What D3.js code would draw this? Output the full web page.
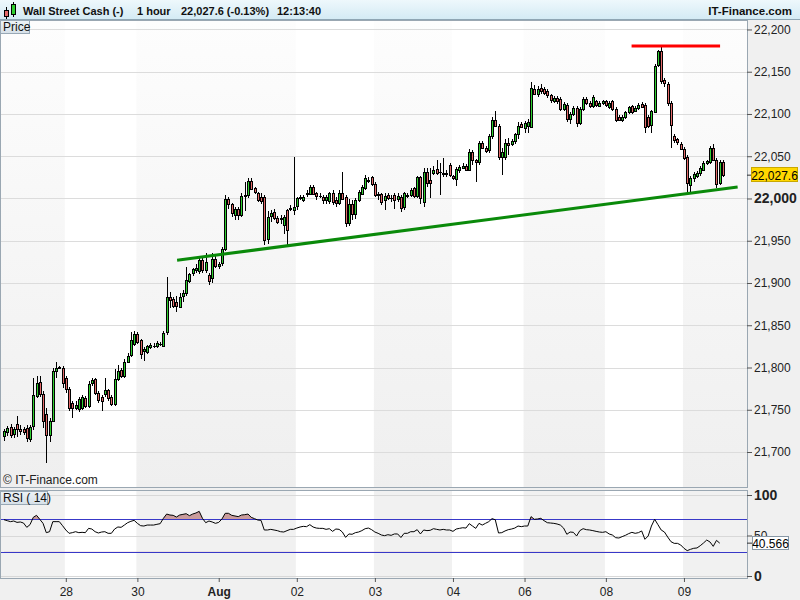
<!DOCTYPE html>
<html><head><meta charset="utf-8">
<script src="https://cdn.jsdelivr.net/npm/d3@7"></script>
<style>
body{margin:0;background:#f0f0f0;}
svg{display:block;font-family:"Liberation Sans",Arial,sans-serif;}
</style></head>
<body><svg id="c" width="800" height="600"></svg>
<script>
// ---------- DATA (hourly candles, Wall Street Cash) ----------
const openP = [21719,21724,21730,21721,21733,21727,21727,21728,21716,21730,
21767,21783,21769,21745,21720,21737,21796,21800,21799,21788,
21775,21758,21753,21751,21752,21764,21755,21781,21786,21770,
21765,21768,21773,21765,21757,21786,21797,21790,21807,21814,
21828,21840,21832,21820,21818,21825,21826,21825,21828,21826,
21841,21883,21881,21877,21872,21884,21888,21903,21911,21916,
21914,21927,21915,21910,21905,21928,21921,21923,21940,21999,
21993,21980,21987,21980,22003,22004,22021,22012,22007,22002,
22002,21952,21980,21984,21977,21976,21968,21986,21988,21986,
21990,22001,21998,22005,22006,22014,22006,22003,22002,21998,
21997,22006,21998,21995,22007,22002,21972,21994,21982,21998,
22006,22012,22022,22025,22017,22004,22005,21998,22004,22001,
22004,21999,22002,21989,22003,22004,22012,22002,22025,21996,
22031,22022,22030,22035,22031,22030,22029,22040,22027,22023,
22033,22037,22039,22034,22055,22045,22043,22066,22060,22057,
22074,22093,22086,22049,22050,22066,22065,22068,22076,22088,
22083,22085,22085,22130,22124,22131,22130,22127,22122,22116,
22119,22118,22106,22111,22094,22100,22107,22089,22106,22118,
22113,22109,22115,22110,22113,22115,22108,22115,22106,22097,
22093,22096,22102,22109,22104,22107,22112,22111,22097,22086,
22103,22157,22174,22140,22136,22113,22074,22070,22065,22059,
22049,22016,22024,22027,22030,22034,22042,22043,22060,22046,
22018,22043];
const highP = [21727,21731,21733,21730,21743,21732,21730,21732,21732,21788,
21790,21790,21772,21752,21740,21800,21806,21802,21802,21790,
21777,21760,21760,21765,21768,21766,21784,21788,21788,21772,
21767,21788,21775,21767,21798,21803,21799,21810,21817,21842,
21843,21842,21834,21824,21827,21829,21829,21831,21830,21843,
21907,21889,21883,21885,21888,21892,21919,21912,21918,21922,
21930,21930,21936,21912,21935,21932,21925,21942,22004,22002,
21995,21990,21990,22006,22020,22024,22024,22014,22008,22006,
22004,21985,21986,21987,21979,21980,21980,21988,21992,22049,
22002,22004,22004,22010,22016,22016,22008,22006,22004,22004,
22008,22010,22002,22010,22031,22004,21999,21998,22000,22010,
22016,22028,22025,22027,22019,22008,22006,22006,22006,22004,
22006,22006,22004,22008,22006,22012,22014,22027,22027,22036,
22036,22036,22038,22046,22042,22048,22034,22042,22028,22037,
22040,22042,22041,22058,22057,22047,22068,22068,22062,22076,
22096,22104,22088,22060,22070,22072,22070,22078,22090,22090,
22092,22094,22138,22134,22133,22135,22132,22129,22124,22121,
22121,22120,22114,22113,22102,22109,22109,22108,22120,22120,
22115,22122,22117,22115,22117,22117,22115,22117,22108,22099,
22099,22104,22110,22111,22109,22113,22114,22113,22099,22105,
22159,22176,22180,22142,22138,22115,22076,22072,22067,22061,
22051,22027,22031,22033,22038,22044,22046,22062,22064,22048,
22045,22046];
const lowP = [21713,21719,21716,21717,21718,21720,21720,21712,21712,21726,
21764,21765,21728,21687,21712,21735,21788,21798,21776,21770,
21748,21740,21750,21747,21750,21752,21752,21778,21768,21758,
21749,21765,21760,21755,21755,21784,21788,21788,21805,21812,
21826,21828,21810,21808,21816,21822,21823,21823,21826,21824,
21839,21870,21870,21866,21870,21878,21885,21900,21908,21912,
21911,21912,21912,21898,21900,21918,21917,21920,21938,21988,
21978,21975,21975,21978,21985,22000,22010,22005,21996,21994,
21945,21946,21972,21975,21970,21970,21958,21942,21985,21980,
21986,21998,21996,22002,22004,22004,21998,22000,21994,21994,
21994,21992,21990,21992,21998,21966,21968,21975,21976,21996,
22004,22010,22018,22015,22002,21998,21992,21986,21998,21996,
21988,21996,21984,21986,22000,22002,22000,22000,21994,21990,
22014,22000,22028,22028,22004,22025,22026,22026,22022,22015,
22030,22035,22032,22032,22040,22020,22040,22058,22054,22054,
22070,22084,22045,22028,22045,22052,22062,22064,22070,22083,
22078,22078,22083,22122,22120,22124,22122,22119,22113,22113,
22112,22104,22104,22090,22088,22098,22084,22087,22104,22111,
22107,22107,22108,22108,22111,22108,22106,22104,22091,22092,
22090,22094,22100,22100,22102,22105,22107,22078,22083,22078,
22101,22155,22136,22132,22110,22060,22066,22063,22057,22046,
22004,22005,22020,22024,22027,22032,22040,22041,22044,22012,
22016,22026];
const closeP = [21725,21729,21721,21727,21727,21725,21723,21716,21730,21767,
21782,21769,21737,21720,21737,21796,21799,21801,21781,21775,
21752,21752,21756,21763,21765,21755,21781,21785,21770,21762,
21760,21773,21763,21757,21786,21796,21790,21807,21814,21832,
21840,21830,21816,21822,21825,21827,21826,21829,21828,21841,
21883,21879,21873,21872,21884,21888,21903,21911,21916,21918,
21927,21915,21925,21903,21928,21920,21923,21940,21999,21993,
21982,21987,21980,22003,22004,22021,22012,22007,21999,21997,
21951,21978,21983,21977,21972,21977,21978,21962,21989,21990,
22000,22002,22002,22006,22014,22006,22002,22003,21998,22002,
22006,21995,21994,22007,22000,21971,21994,21982,21998,22008,
22014,22024,22021,22017,22004,22005,21996,22003,22000,22001,
21998,22003,21989,22006,22004,22010,22002,22025,22000,22031,
22018,22018,22034,22030,22031,22029,22030,22028,22025,22035,
22037,22039,22034,22055,22045,22043,22066,22060,22057,22074,
22093,22086,22049,22055,22066,22064,22068,22076,22086,22085,
22089,22090,22131,22124,22130,22127,22125,22122,22116,22119,
22115,22106,22112,22094,22100,22107,22089,22106,22118,22113,
22109,22120,22110,22113,22115,22110,22113,22106,22093,22094,
22097,22102,22108,22102,22107,22111,22109,22085,22086,22103,
22157,22174,22139,22136,22113,22087,22069,22066,22059,22048,
22018,22024,22029,22030,22036,22042,22044,22060,22046,22018,
22043,22027.6];
const rsiVals = [69.5,68.3,67.1,67.9,66.2,66.7,65.4,60.1,63.4,72.4,
74.9,70.0,65.0,53.5,54.7,67.1,67.1,67.1,62.1,56.8,
52.7,53.5,54.7,53.5,53.9,53.5,58.8,58.0,54.7,53.1,
54.3,54.7,52.7,52.7,58.0,60.5,60.1,62.9,65.8,67.5,
68.7,65.0,62.1,61.7,62.9,62.9,62.9,63.8,64.6,71.2,
76.5,75.3,74.9,72.8,75.3,76.1,76.9,74.5,76.5,77.8,
79.8,71.2,65.8,67.9,66.7,65.0,66.2,70.4,77.4,77.4,
74.9,74.1,73.3,75.3,75.7,76.5,72.4,70.8,69.1,68.7,
56.8,56.8,57.6,56.8,56.0,54.7,54.3,56.0,57.6,57.6,
59.2,60.5,61.3,60.9,63.4,60.5,59.2,58.8,58.8,57.6,
58.4,55.1,58.0,57.6,54.3,47.7,51.9,51.5,53.5,54.3,
56.0,58.4,59.2,57.2,54.3,52.7,50.6,49.8,51.0,50.2,
51.9,51.9,47.5,52.7,52.7,54.7,54.7,57.2,51.9,56.8,
56.0,56.4,58.4,57.6,56.8,57.6,56.8,56.8,55.1,58.0,
58.8,59.6,59.2,64.6,61.7,58.8,65.0,62.9,65.0,67.1,
70.8,69.5,53.1,53.5,55.6,57.2,58.0,59.2,61.7,60.9,
61.7,61.7,73.3,70.0,70.4,71.2,68.3,65.8,65.4,65.0,
64.2,62.9,59.2,51.5,54.3,53.9,49.4,56.0,58.4,57.2,
56.8,56.0,55.1,54.3,53.9,54.7,51.9,50.6,47.3,46.9,
48.6,50.2,52.3,53.9,52.7,53.5,55.6,45.3,49.4,61.7,
70.0,63.4,56.8,54.3,48.1,42.4,40.3,40.3,38.3,34.2,
31.3,32.9,34.2,34.6,37.4,40.7,44.4,42.0,36.6,44.0,
40.566];
const dayIdx = [19,41,66,90,114,138,160,185,209];
const dayLabels = ["28","30","Aug","02","03","04","06","08","09"];
const shadedBands = [[-10,19],[41,90],[114,138],[160,185],[209,240]];
const priceTicks = [21700,21750,21800,21850,21900,21950,22000,22050,22100,22150,22200];
const rsiTicks = [0,50,100];
const rsiLevels = [70,30];
const trendIdx = [53.2,225.5], trendPrice = [21927,22013.6];
const resistIdx = [192.9,220.1], resistPrice = [22180.5,22180.5];
const lastPrice = 22027.6, lastRsi = 40.566;
const titleParts = [["Wall Street Cash (-)",23],["1 hour",137],["22,027.6 (-0.13%)",181],["12:13:40",277]];

// ---------- LAYOUT ----------
const svg = d3.select("#c");
const L = 0, R = 747, mainTop = 20, mainBot = 487, rsiTop = 490, rsiBot = 578;
const N = closeP.length;
const x = d3.scaleLinear().domain([0, N-1]).range([4, 723]);
const yP = d3.scaleLinear().domain([21658.6, 22211.2]).range([mainBot, mainTop]);
const yR = d3.scaleLinear().domain([0, 100]).range([576, 495]);
const ry = yR(lastRsi);

const defs = svg.append("defs");
const hg = defs.append("linearGradient").attr("id","hdr").attr("x1",0).attr("y1",0).attr("x2",0).attr("y2",1);
hg.append("stop").attr("offset","0%").attr("stop-color","#eef8fc");
hg.append("stop").attr("offset","100%").attr("stop-color","#d3eaf4");
const bg = defs.append("linearGradient").attr("id","band").attr("x1",0).attr("y1",0).attr("x2",0).attr("y2",1);
bg.append("stop").attr("offset","0%").attr("stop-color","#fdfdfd");
bg.append("stop").attr("offset","100%").attr("stop-color","#efefef");
const lg = defs.append("linearGradient").attr("id","lbl").attr("x1",0).attr("y1",0).attr("x2",0).attr("y2",1);
lg.append("stop").attr("offset","0%").attr("stop-color","#eef3f7");
lg.append("stop").attr("offset","100%").attr("stop-color","#d6e0e8");
defs.append("clipPath").attr("id","clipMain").append("rect").attr("x",L).attr("y",mainTop).attr("width",R-L).attr("height",mainBot-mainTop);
defs.append("clipPath").attr("id","clipRsi").append("rect").attr("x",L).attr("y",rsiTop).attr("width",R-L).attr("height",rsiBot-rsiTop);
defs.append("clipPath").attr("id","clipAbove").append("rect").attr("x",L).attr("y",rsiTop).attr("width",R-L).attr("height",yR(70)-rsiTop);
defs.append("clipPath").attr("id","clipBelow").append("rect").attr("x",L).attr("y",yR(30)).attr("width",R-L).attr("height",rsiBot-yR(30));
// clip in the local frame of the "50" tick (origin at the tick)
defs.append("clipPath").attr("id","clip50").append("rect").attr("x",0).attr("y",-20)
  .attr("width",53).attr("height",20 + (Math.round(ry)-6.5) - yR(50));

// background
svg.append("rect").attr("width",800).attr("height",600).attr("fill","#f0f0f0");

// ---------- MAIN PANEL ----------
const main = svg.append("g");
main.append("rect").attr("x",L).attr("y",mainTop).attr("width",R-L).attr("height",mainBot-mainTop).attr("fill","#ffffff");
main.append("g").attr("clip-path","url(#clipMain)").selectAll("rect").data(shadedBands).join("rect")
  .attr("x",d=>x(d[0])-1).attr("width",d=>x(d[1])-x(d[0]))
  .attr("y",mainTop).attr("height",mainBot-mainTop).attr("fill","url(#band)");
main.append("g").selectAll("line").data(priceTicks).join("line")
  .attr("x1",L).attr("x2",R).attr("y1",d=>Math.round(yP(d))+0.5).attr("y2",d=>Math.round(yP(d))+0.5)
  .attr("stroke","#dcdcdc").attr("stroke-width",1);

// candles
const cg = main.append("g").attr("clip-path","url(#clipMain)").attr("shape-rendering","crispEdges");
const idx = d3.range(N);
cg.selectAll("line.w").data(idx).join("line").attr("class","w")
  .attr("x1",i=>Math.round(x(i))+0.5).attr("x2",i=>Math.round(x(i))+0.5)
  .attr("y1",i=>Math.round(yP(highP[i]))).attr("y2",i=>Math.round(yP(lowP[i])))
  .attr("stroke","#000").attr("stroke-width",1);
cg.selectAll("rect.b").data(idx).join("rect").attr("class","b")
  .attr("x",i=>Math.round(x(i))-0.5).attr("width",2)
  .attr("y",i=>Math.round(yP(Math.max(openP[i],closeP[i])))+0.5)
  .attr("height",i=>Math.max(0.01,Math.round(Math.abs(yP(openP[i])-yP(closeP[i])))))
  .attr("fill",i=>closeP[i]>=openP[i]?"#2fcf2f":"#e46a6a")
  .attr("stroke","#000").attr("stroke-width",1);

// trend lines
main.append("line").attr("clip-path","url(#clipMain)")
  .attr("x1",x(trendIdx[0])).attr("y1",yP(trendPrice[0])).attr("x2",x(trendIdx[1])).attr("y2",yP(trendPrice[1]))
  .attr("stroke","#0a8a0a").attr("stroke-width",3);
main.append("line")
  .attr("x1",x(resistIdx[0])).attr("y1",yP(resistPrice[0])).attr("x2",x(resistIdx[1])).attr("y2",yP(resistPrice[1]))
  .attr("stroke","#ff0000").attr("stroke-width",3);

main.append("text").attr("x",3).attr("y",484).attr("font-size",12).attr("fill","#222").text("\u00A9 IT-Finance.com");
main.append("rect").attr("x",L+0.5).attr("y",mainTop+0.5).attr("width",R-L).attr("height",mainBot-mainTop).attr("fill","none").attr("stroke","#9aa7b2");

// price label
main.append("rect").attr("x",0.5).attr("y",20.5).attr("width",29).attr("height",13).attr("fill","url(#lbl)").attr("stroke","#98a8b5");
main.append("text").attr("x",3).attr("y",31).attr("font-size",12).attr("fill","#111").text("Price");

// price axis
const pa = svg.append("g").attr("transform",`translate(${R},0)`)
  .call(d3.axisRight(yP).tickValues(priceTicks).tickSize(5).tickPadding(2).tickFormat(d3.format(",")));
pa.select(".domain").remove();
pa.selectAll(".tick line").attr("stroke","#555");
pa.selectAll(".tick text").attr("fill","#222").attr("font-family","Liberation Sans, Arial, sans-serif")
  .attr("font-weight",d=>d===22000?"bold":"normal").style("font-size",d=>d===22000?"14px":"12px");
// last price box
const ly = yP(lastPrice);
svg.append("line").attr("x1",R).attr("x2",R+5).attr("y1",ly).attr("y2",ly).attr("stroke","#333");
svg.append("rect").attr("x",751.5).attr("y",Math.round(ly)-7.5).attr("width",46).attr("height",14).attr("fill","#ffd700").attr("stroke","#c9a800");
svg.append("text").attr("x",774.5).attr("y",ly+4.5).attr("text-anchor","middle").attr("font-size",12).attr("fill","#000").text(d3.format(",.1f")(lastPrice));

// ---------- RSI PANEL ----------
const rp = svg.append("g");
rp.append("rect").attr("x",L).attr("y",rsiTop).attr("width",R-L).attr("height",rsiBot-rsiTop).attr("fill","#fff");
rp.append("g").attr("clip-path","url(#clipRsi)").selectAll("rect").data(shadedBands).join("rect")
  .attr("x",d=>x(d[0])-1).attr("width",d=>x(d[1])-x(d[0]))
  .attr("y",rsiTop).attr("height",rsiBot-rsiTop).attr("fill","#f1f1f1");
rp.append("g").selectAll("line").data(rsiTicks).join("line")
  .attr("x1",L).attr("x2",R).attr("y1",d=>Math.round(yR(d))+0.5).attr("y2",d=>Math.round(yR(d))+0.5)
  .attr("stroke","#d8d8d8");
const areaAbove = d3.area().x((d,i)=>x(i)).y0(yR(70)).y1(d=>yR(d));
rp.append("path").datum(rsiVals).attr("clip-path","url(#clipAbove)").attr("d",areaAbove).attr("fill","#c99c9c");
const areaBelow = d3.area().x((d,i)=>x(i)).y0(yR(30)).y1(d=>yR(d));
rp.append("path").datum(rsiVals).attr("clip-path","url(#clipBelow)").attr("d",areaBelow).attr("fill","#c99c9c");
rp.append("g").selectAll("line").data(rsiLevels).join("line")
  .attr("x1",L).attr("x2",R).attr("y1",d=>Math.round(yR(d))+0.5).attr("y2",d=>Math.round(yR(d))+0.5)
  .attr("stroke","#3838c8").attr("shape-rendering","crispEdges");
rp.append("path").datum(rsiVals).attr("clip-path","url(#clipRsi)")
  .attr("d",d3.line().x((d,i)=>x(i)).y(d=>yR(d))).attr("fill","none").attr("stroke","#000").attr("stroke-width",1);
rp.append("rect").attr("x",L+0.5).attr("y",rsiTop+0.5).attr("width",R-L).attr("height",rsiBot-rsiTop).attr("fill","none").attr("stroke","#9aa7b2");
rp.append("rect").attr("x",0.5).attr("y",491.5).attr("width",47).attr("height",13).attr("fill","url(#lbl)").attr("stroke","#98a8b5");
rp.append("text").attr("x",3).attr("y",502).attr("font-size",12).attr("fill","#111").text("RSI ( 14)");

const ra = svg.append("g").attr("transform",`translate(${R},0)`)
  .call(d3.axisRight(yR).tickValues(rsiTicks).tickSize(5).tickPadding(2));
ra.select(".domain").remove();
ra.selectAll(".tick line").attr("stroke","#555");
ra.selectAll(".tick text").attr("fill","#222").attr("font-family","Liberation Sans, Arial, sans-serif")
  .attr("font-weight",d=>d===50?"normal":"bold").style("font-size",d=>d===50?"12px":"14px");
// the "50" label is partly hidden by the value box, as in the original
ra.selectAll(".tick").filter(d=>d===50).select("text").attr("clip-path","url(#clip50)");
svg.append("line").attr("x1",R).attr("x2",R+5).attr("y1",ry).attr("y2",ry).attr("stroke","#333");
svg.append("rect").attr("x",752.5).attr("y",Math.round(ry)-6.5).attr("width",36).attr("height",13).attr("fill","#fff").attr("stroke","#8797a5");
svg.append("text").attr("x",770.5).attr("y",ry+4.5).attr("text-anchor","middle").attr("font-size",12).attr("fill","#000").text(lastRsi);

// ---------- X AXIS ----------
const xa = svg.append("g").attr("transform",`translate(0,${rsiBot})`)
  .call(d3.axisBottom(x).tickValues(dayIdx).tickSize(4).tickPadding(5).tickFormat((d,i)=>dayLabels[i]));
xa.select(".domain").remove();
xa.selectAll(".tick line").attr("stroke","#555");
xa.selectAll(".tick text").attr("fill","#222").attr("font-family","Liberation Sans, Arial, sans-serif").style("font-size","12px")
  .attr("font-weight",(d,i)=>dayLabels[i]==="Aug"?"bold":"normal");

// ---------- HEADER ----------
svg.append("rect").attr("x",0).attr("y",0).attr("width",800).attr("height",20).attr("fill","url(#hdr)");
svg.append("line").attr("x1",0).attr("x2",800).attr("y1",19.5).attr("y2",19.5).attr("stroke","#8fa6b4");
const ic = svg.append("g").attr("shape-rendering","crispEdges");
ic.append("line").attr("x1",6.5).attr("x2",6.5).attr("y1",7).attr("y2",19).attr("stroke","#000");
ic.append("rect").attr("x",4.5).attr("y",10.5).attr("width",4).attr("height",6).attr("fill","#e46a6a").attr("stroke","#000");
ic.append("line").attr("x1",13.5).attr("x2",13.5).attr("y1",2).attr("y2",17).attr("stroke","#000");
ic.append("rect").attr("x",11.5).attr("y",4.5).attr("width",4).attr("height",10).attr("fill","#2fcf2f").attr("stroke","#000");
svg.append("g").selectAll("text").data(titleParts).join("text")
  .attr("x",d=>d[1]).attr("y",15).attr("font-size",11).attr("font-weight","bold").attr("fill","#111").text(d=>d[0]);
svg.append("text").attr("x",792).attr("y",15).attr("text-anchor","end").attr("font-size",11.5).attr("font-weight","bold").attr("fill","#111").text("IT-Finance.com");
</script></body></html>
